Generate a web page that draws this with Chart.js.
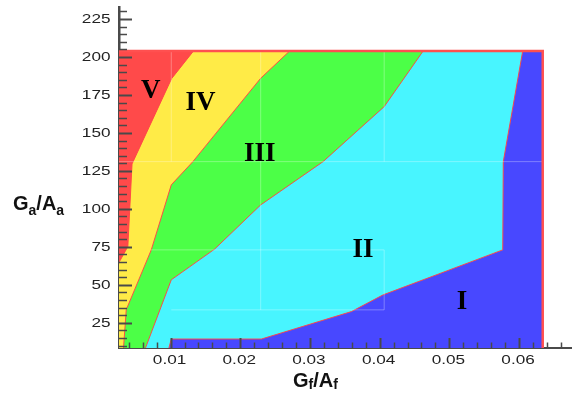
<!DOCTYPE html>
<html>
<head>
<meta charset="utf-8">
<script src="https://cdn.jsdelivr.net/npm/chart.js@4.4.0/dist/chart.umd.min.js"></script>
<style>
  html, body { margin: 0; padding: 0; background: #fff; }
  #wrap { width: 572px; height: 394px; position: relative; }
</style>
</head>
<body>
<div id="wrap"><canvas id="phaseChart"></canvas></div>
<script>
// axis ranges (Gf/Af horizontally, Ga/Aa vertically)
const X_MIN = 0.0026, X_MAX = 0.0676;
const Y_MIN = 8.4, Y_MAX = 232.9;
const X_EDGE = 0.0634;   // right border of the map
const Y_TOP = 204;       // top border of the map

const xTicks = [0.01, 0.02, 0.03, 0.04, 0.05, 0.06];
const yTicks = [25, 50, 75, 100, 125, 150, 175, 200, 225];

// boundaries between the regions
const bVIV_x = [0.0026, 0.00267, 0.00387, 0.00447, 0.01014, 0.0133, X_EDGE];
const bVIV_y = [64.5, 65.3, 75.2, 129.6, 185.7, 204, 204];

const bIVIII_x = [0.00325, 0.00364, 0.00723, 0.0101, 0.0132, 0.02293, 0.0271, X_EDGE];
const bIVIII_y = [8.4, 33.6, 73, 115.8, 131.1, 186, 204, 204];

const bIIIII_x = [0.0064, 0.0101, 0.01632, 0.02293, 0.03188, 0.04065, 0.04625, X_EDGE];
const bIIIII_y = [8.4, 53.3, 73.5, 102.6, 131.1, 167.3, 204, 204];

const bIII_x = [0.00976, 0.0101, 0.02303, 0.03596, 0.0405, 0.05766, 0.05774, 0.06053, X_EDGE];
const bIII_y = [8.4, 14.3, 14.3, 32.4, 43.4, 73, 131.1, 204, 204];

// faint seams of the original picture: [x1, y1, x2, y2]
const seams = [
    [X_MIN, 131.1, X_EDGE, 131.1],
    [0.0101, 131.1, 0.0101, 204],
    [0.02293, 33.5, 0.02293, 204],
    [0.04065, 131.1, 0.04065, 204],
    [0.04065, 33.5, 0.04065, 73],
    [0.0072, 73, 0.04065, 73],
    [0.0101, 33.5, 0.04065, 33.5]
];

// region labels
const regionNames = ['V', 'IV', 'III', 'II', 'I'];
const labelX = [0.00714, 0.01431, 0.02278, 0.0376, 0.05181];
const labelY = [179.1, 170.9, 137.2, 74.0, 40.3];

const regionColors = ['#ff4a4a', '#ffeb47', '#4cff47', '#48f5ff', '#4848ff'];
const edgeColor = 'rgba(255, 70, 70, 0.95)';

function pts(xs, ys) {
    return xs.map((x, i) => ({ x: x, y: ys[i] }));
}

function regionSet(xs, ys, color, order) {
    return {
        data: pts(xs, ys),
        showLine: true,
        fill: 'start',
        backgroundColor: color,
        borderColor: edgeColor,
        borderWidth: 1,
        pointRadius: 0,
        order: order
    };
}

const datasets = [
    // whole map is region V underneath
    regionSet([X_MIN, X_EDGE], [Y_TOP, Y_TOP], regionColors[0], 10),
    regionSet(bVIV_x, bVIV_y, regionColors[1], 9),
    regionSet(bIVIII_x, bIVIII_y, regionColors[2], 8),
    regionSet(bIIIII_x, bIIIII_y, regionColors[3], 7),
    regionSet(bIII_x, bIII_y, regionColors[4], 6)
];

seams.forEach(s => {
    datasets.push({
        data: pts([s[0], s[2]], [s[1], s[3]]),
        showLine: true,
        fill: false,
        borderColor: 'rgba(255, 255, 255, 0.3)',
        borderWidth: 1,
        pointRadius: 0,
        order: 2
    });
});

datasets.push({   // red frame, top and right
    data: pts([X_MIN, X_EDGE, X_EDGE], [Y_TOP, Y_TOP, Y_MIN]),
    showLine: true,
    fill: false,
    borderColor: '#ff5050',
    borderWidth: 2.5,
    pointRadius: 0,
    order: 1
});

// tick marks pointing into the plot, stretched tick labels, region labels, axis titles
const decorPlugin = {
    id: 'decor',
    afterDraw(chart) {
        const ctx = chart.ctx;
        const xs = chart.scales.x, ys = chart.scales.y;
        const area = chart.chartArea;
        ctx.save();

        ctx.font = 'bold 27px "Liberation Serif", "Times New Roman", serif';
        ctx.fillStyle = '#000';
        ctx.textAlign = 'center';
        ctx.textBaseline = 'alphabetic';
        regionNames.forEach((name, i) => {
            ctx.fillText(name, xs.getPixelForValue(labelX[i]), ys.getPixelForValue(labelY[i]) + 9);
        });

        ctx.strokeStyle = '#4a4a4a';
        for (let v = 10; v <= 230; v += 5) {
            const major = v % 25 === 0;
            const py = Math.round(ys.getPixelForValue(v)) + 0.5;
            ctx.lineWidth = major ? 2 : 1.5;
            ctx.beginPath();
            ctx.moveTo(area.left, py);
            ctx.lineTo(area.left + (major ? 13 : 8), py);
            ctx.stroke();
        }
        for (let k = 2; k <= 33; k++) {
            const v = k * 0.002;
            const major = k % 5 === 0;
            const px = Math.round(xs.getPixelForValue(v)) + 0.5;
            ctx.lineWidth = major ? 2 : 1.5;
            ctx.beginPath();
            ctx.moveTo(px, area.bottom);
            ctx.lineTo(px, area.bottom - (major ? 10 : 5.5));
            ctx.stroke();
        }

        // tick labels: the original text is stretched sideways
        const stretch = 1.32;
        ctx.font = '13px "Liberation Sans", Arial, sans-serif';
        ctx.fillStyle = '#222';
        ctx.textBaseline = 'middle';
        yTicks.forEach(v => {
            ctx.save();
            ctx.translate(area.left - 8.5, ys.getPixelForValue(v) + 0.5);
            ctx.scale(stretch, 1);
            ctx.textAlign = 'right';
            ctx.fillText(String(v), 0, 0);
            ctx.restore();
        });
        xTicks.forEach(v => {
            ctx.save();
            ctx.translate(xs.getPixelForValue(v) - 1, area.bottom + 12);
            ctx.scale(stretch, 1);
            ctx.textAlign = 'center';
            ctx.fillText(v.toFixed(2), 0, 0);
            ctx.restore();
        });

        // axis titles with subscripts
        function title(x, baseline, a, sub, b, sub2, subDrop) {
            let cx = x;
            const big = 'bold 20px "Liberation Sans", Arial, sans-serif';
            const small = 'bold 14px "Liberation Sans", Arial, sans-serif';
            ctx.textAlign = 'left';
            ctx.textBaseline = 'alphabetic';
            ctx.fillStyle = '#111';
            [[a, big, 0], [sub, small, subDrop], ['/', big, 0], [b, big, 0], [sub2, small, subDrop]].forEach(p => {
                ctx.font = p[1];
                ctx.fillText(p[0], cx, baseline + p[2]);
                cx += ctx.measureText(p[0]).width;
            });
        }
        title(13, 209.5, 'G', 'a', 'A', 'a', 5.5);
        title(293, 386.5, 'G', 'f', 'A', 'f', 2.5);

        ctx.restore();
    }
};

new Chart(document.getElementById('phaseChart'), {
    type: 'scatter',
    data: { datasets: datasets },
    options: {
        responsive: true,
        maintainAspectRatio: false,
        animation: false,
        layout: { padding: { top: 7, right: 0, left: 0, bottom: 0 } },
        plugins: {
            legend: { display: false },
            tooltip: { enabled: false }
        },
        scales: {
            x: {
                type: 'linear',
                min: X_MIN,
                max: X_MAX,
                z: 1,
                afterFit: s => {
                    s.height = 46;
                    s.paddingLeft = 0;
                    s.paddingRight = 0;
                },
                afterBuildTicks: s => { s.ticks = xTicks.map(v => ({ value: v })); },
                grid: { display: false, drawTicks: false },
                border: { display: true, color: '#4a4a4a', width: 2 },
                ticks: { display: false }
            },
            y: {
                type: 'linear',
                min: Y_MIN,
                max: Y_MAX,
                z: 1,
                afterFit: s => {
                    s.width = 119;
                    s.paddingTop = 0;
                    s.paddingBottom = 0;
                },
                afterBuildTicks: s => { s.ticks = yTicks.map(v => ({ value: v })); },
                grid: { display: false, drawTicks: false },
                border: { display: true, color: '#4a4a4a', width: 2.5 },
                ticks: { display: false }
            }
        }
    },
    plugins: [decorPlugin]
});
</script>
</body>
</html>
